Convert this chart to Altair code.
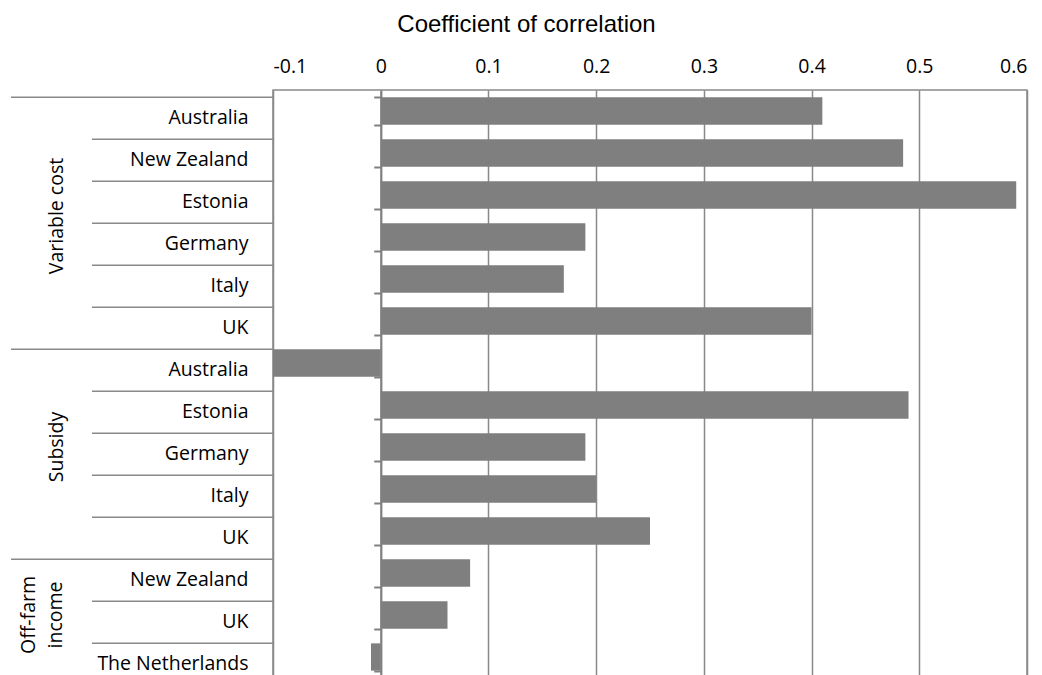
import altair as alt
import pandas as pd

groups = ["Variable cost"] * 6 + ["Subsidy"] * 5 + ["Off-farm\nincome"] * 3
countries = ["Australia", "New Zealand", "Estonia", "Germany", "Italy", "UK",
             "Australia", "Estonia", "Germany", "Italy", "UK",
             "New Zealand", "UK", "The Netherlands"]
values = [0.41, 0.485, 0.59, 0.19, 0.17, 0.40,
          -0.10, 0.49, 0.19, 0.20, 0.25,
          0.083, 0.062, -0.009]
x_ticks = [-0.1, 0, 0.1, 0.2, 0.3, 0.4, 0.5, 0.6]

df = pd.DataFrame({"row": list(range(len(countries))), "group": groups,
                   "country": countries, "value": values})
df["first"] = df["group"] != df["group"].shift(1)
rows = list(df["row"])

GRID = "#898989"
FONT = "Open Sans"
W, H = 754, 588
zero_px = W / 7.0

band = alt.Scale(domain=rows, paddingInner=0.35, paddingOuter=0.175)

base = alt.Chart(df)

bars = base.mark_bar(color="#7f7f7f").encode(
    x=alt.X("value:Q",
            scale=alt.Scale(domain=[-0.1, 0.6], nice=False, zero=False),
            axis=alt.Axis(orient="top", values=x_ticks, grid=True, gridColor=GRID,
                          gridWidth=1.5, domain=False, ticks=False, tickSize=0,
                          labelPadding=13.5, labelFont=FONT, labelFontSize=19.5,
                          labelColor="black",
                          labelExpr="datum.value < 0 ? '-' + format(-datum.value, '~g') : format(datum.value, '~g')",
                          title="Coefficient of correlation", titleFont="Liberation Sans",
                          titleFontSize=24, titleFontWeight="normal", titleColor="black",
                          titleX=253, titleY=-59, titleBaseline="alphabetic",
                          titleAlign="center")),
    x2=alt.datum(0),
    y=alt.Y("row:O", scale=band,
            axis=alt.Axis(orient="left", offset=-zero_px, labels=False, title=None,
                          domainColor="#808080", domainWidth=2, tickColor="#808080",
                          tickWidth=2, tickSize=7, tickBand="extent", grid=False)),
)

country_text = base.mark_text(align="right", baseline="middle", font=FONT,
                              fontSize=19.5, color="black", dy=7).encode(
    x=alt.value(-24.5),
    y=alt.Y("row:O", scale=band, axis=None),
    text="country:N",
)

inner_sep = base.transform_filter("!datum.first").mark_rule(
    color=GRID, strokeWidth=1.5).encode(
    x=alt.value(-181), x2=alt.value(0),
    y=alt.Y("row:O", scale=band, bandPosition=0, axis=None),
)

group_sep = base.transform_filter("datum.first").mark_rule(
    color=GRID, strokeWidth=1.5).encode(
    x=alt.value(-262), x2=alt.value(0),
    y=alt.Y("row:O", scale=band, bandPosition=0, axis=None),
)

group_base = base.transform_aggregate(
    lo="min(row)", hi="max(row)", groupby=["group"]
).transform_calculate(
    mid="(datum.lo + datum.hi + 1) / 2"
)
group_y = alt.Y("mid:Q", scale=alt.Scale(domain=[0, len(rows)], reverse=True,
                                         nice=False, zero=False), axis=None)
text_style = dict(angle=270, align="center", baseline="bottom", lineBreak="\n",
                  font=FONT, fontSize=19.5, lineHeight=27.5, color="black")

group_text_single = group_base.transform_filter(
    "indexof(datum.group, '\\n') < 0"
).mark_text(**text_style).encode(
    x=alt.value(-206), y=group_y, text="group:N",
)
group_text_multi = group_base.transform_filter(
    "indexof(datum.group, '\\n') >= 0"
).mark_text(**text_style).encode(
    x=alt.value(-234.5), y=group_y, text="group:N",
)

chart = alt.layer(bars, country_text, inner_sep, group_sep,
                  group_text_single, group_text_multi).resolve_scale(
    y="independent"
).properties(
    width=W, height=H,
    padding={"left": 2, "top": 4, "right": 5, "bottom": 5},
    background="white",
).configure_view(stroke=GRID, strokeWidth=1.5)

chart.save("out.html", embed_options={"renderer": "svg", "actions": False})
